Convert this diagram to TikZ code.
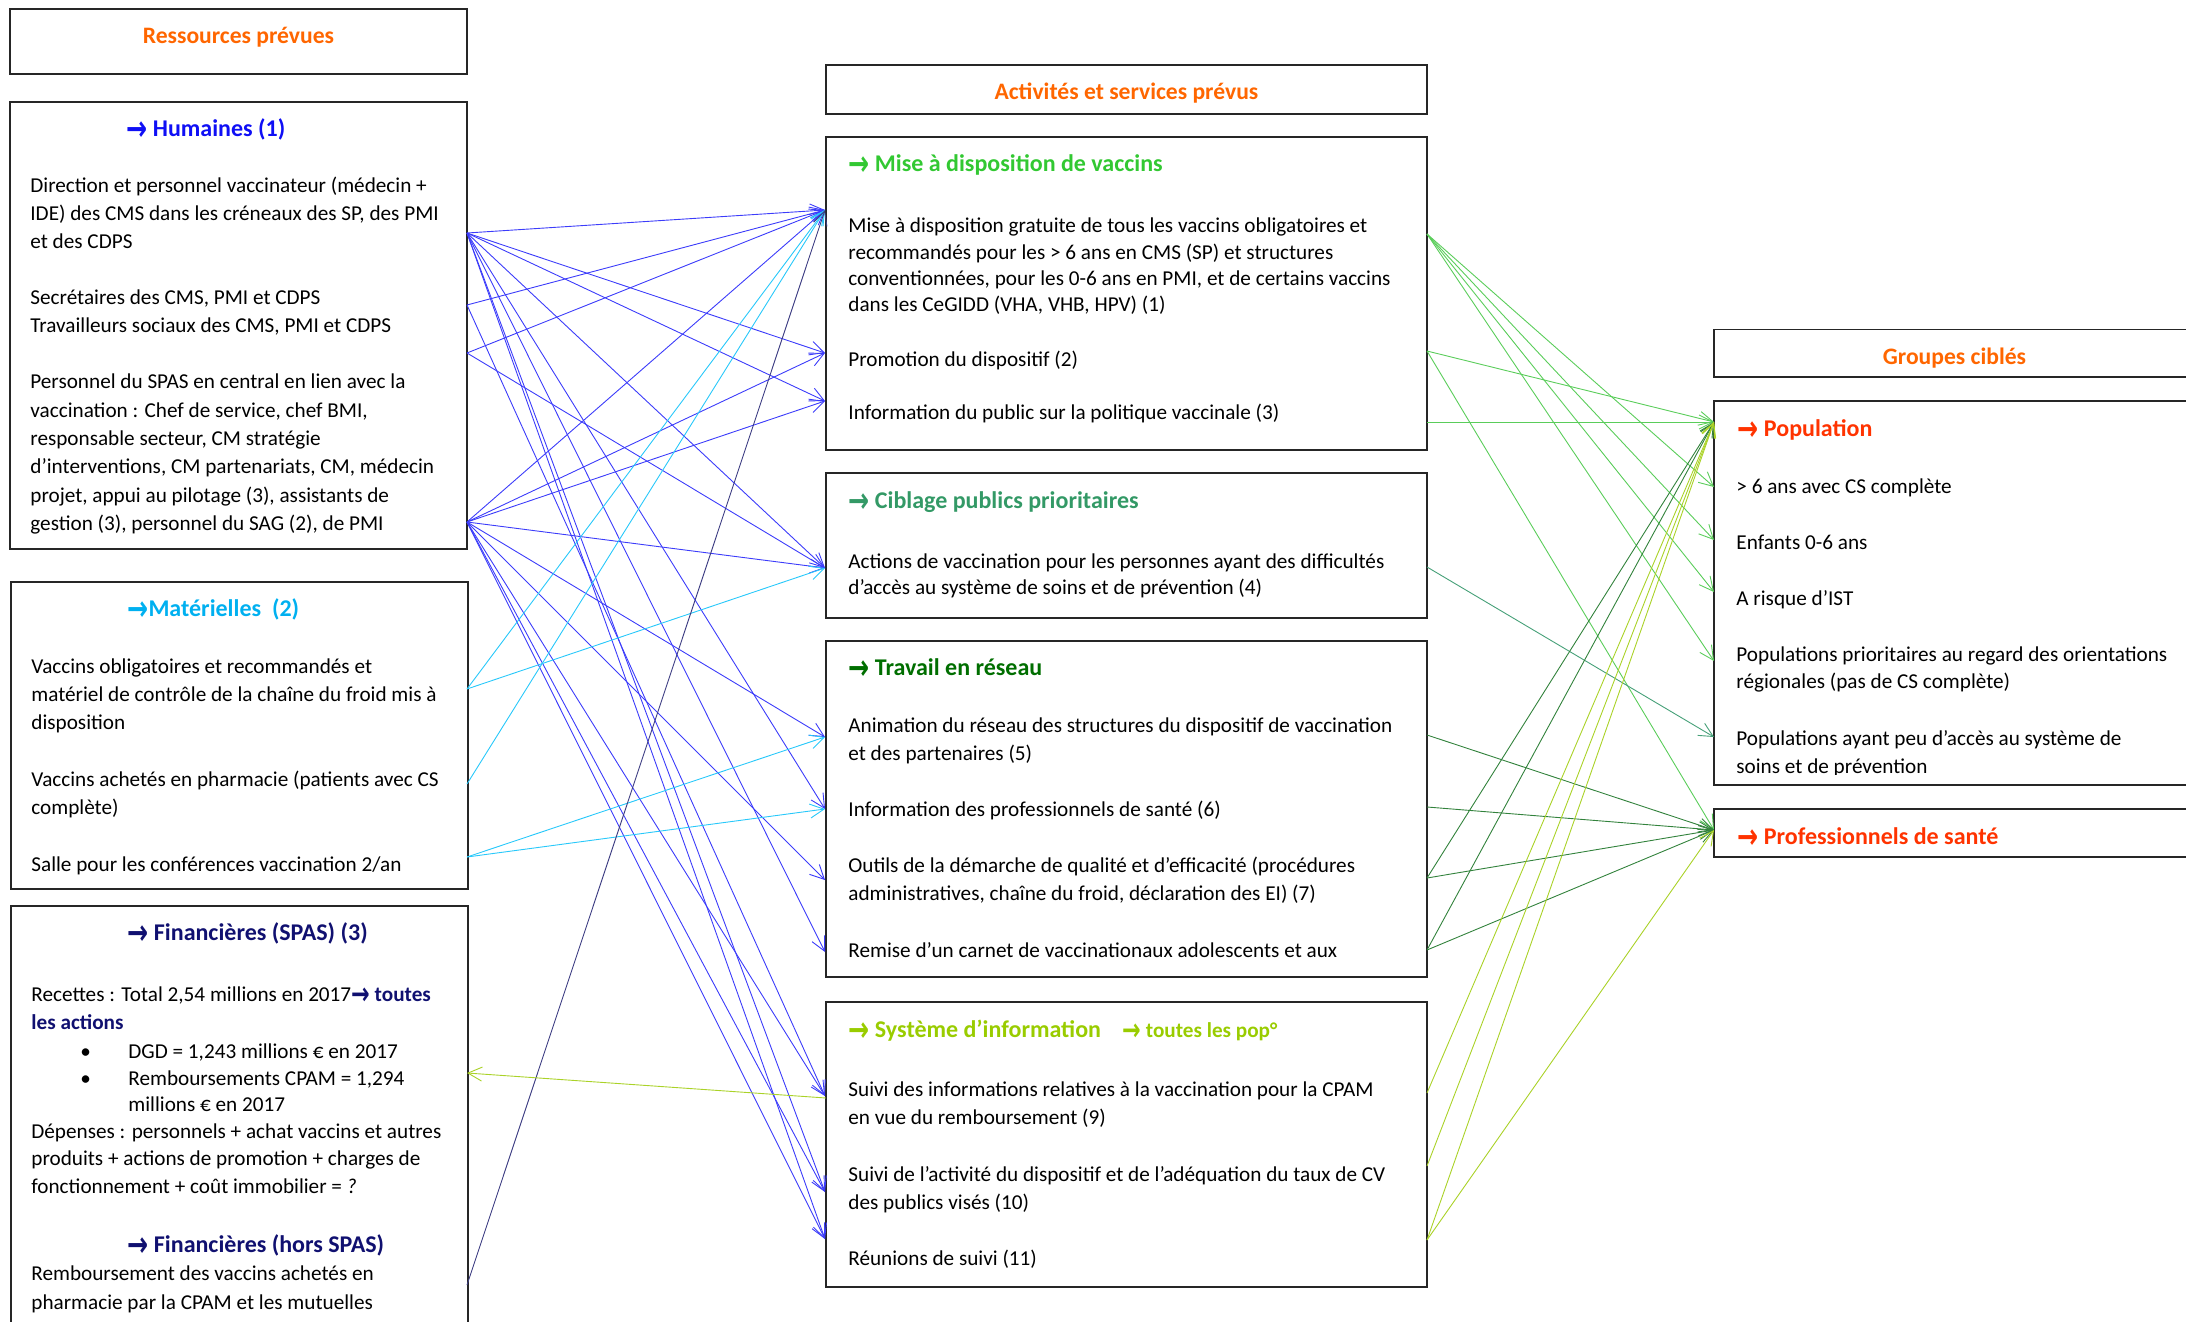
\documentclass[tikz,border=0pt]{standalone}
\usepackage{fontspec}
\setmainfont{Carlito}
\newfontfamily\arrowfont{DejaVu Sans}
\usetikzlibrary{arrows.meta}
\definecolor{orangeT}{RGB}{255,102,0}
\definecolor{humblue}{RGB}{15,15,245}
\definecolor{matcyan}{RGB}{0,176,240}
\definecolor{finnavy}{RGB}{16,16,112}
\definecolor{misegreen}{RGB}{50,200,50}
\definecolor{ciblgreen}{RGB}{51,153,102}
\definecolor{travgreen}{RGB}{0,110,0}
\definecolor{sysgreen}{RGB}{153,204,0}
\definecolor{popred}{RGB}{255,51,0}
\definecolor{lblue}{RGB}{60,60,250}
\definecolor{lcyan}{RGB}{40,200,250}
\definecolor{lnavy}{RGB}{60,60,130}
\definecolor{lsys}{RGB}{170,210,40}
\definecolor{lmise}{RGB}{90,205,90}
\definecolor{lcibl}{RGB}{70,160,120}
\definecolor{ltrav}{RGB}{50,130,60}
\newcommand\arr{{\arrowfont\bfseries\raisebox{-0.15em}{\scalebox{1.05}[1.45]{→}}}}
\tikzset{
  txt/.style={anchor=base west, inner sep=0pt, font=\fontsize{10.6}{13}\selectfont},
  hd/.style={anchor=base west, inner sep=0pt, font=\fontsize{12}{14}\selectfont\bfseries},
  ttl/.style={anchor=base, inner sep=0pt, font=\fontsize{11.8}{14}\selectfont\bfseries, text=orangeT},
  boxst/.style={draw=black!85, line width=0.9pt},
  con/.style={line width=0.45pt, -{Straight Barb[length=7pt,width=7pt]}},
}
\begin{document}
\begin{tikzpicture}[x=0.5pt,y=-0.5pt]
\useasboundingbox (0,0) rectangle (2186,1322);

% ---------- boxes ----------
\draw[boxst] (10,9) rectangle (467,74);
\draw[boxst] (10,102) rectangle (467,549);
\draw[boxst] (11,582) rectangle (468,889);
\draw[boxst] (11,906) rectangle (468,1340);
\draw[boxst] (826,65) rectangle (1427,114);
\draw[boxst] (826,137) rectangle (1427,450);
\draw[boxst] (826,473) rectangle (1427,618);
\draw[boxst] (826,641) rectangle (1427,977);
\draw[boxst] (826,1002) rectangle (1427,1287);
\draw[boxst] (1714,329.5) rectangle (2200,377);
\draw[boxst] (1714,401) rectangle (2200,785);
\draw[boxst] (1714,809) rectangle (2200,857);

% ---------- left column texts ----------
\node[ttl] (tres) at (238.5,43.5) {Ressources prévues};
\node[hd, text=humblue] (hhum) at (126,137) {\arr\ Humaines (1)};
\node[txt] (a1) at (30,192.5) {Direction et personnel vaccinateur (médecin +};
\node[txt] (a2) at (30,220.5) {IDE) des CMS dans les créneaux des SP, des PMI};
\node[txt] (a3) at (30,248.5) {et des CDPS};
\node[txt] (a4) at (30,304.5) {Secrétaires des CMS, PMI et CDPS};
\node[txt] (a5) at (30,332.5) {Travailleurs sociaux des CMS, PMI et CDPS};
\node[txt] (a6) at (30,388.5) {Personnel du SPAS en central en lien avec la};
\node[txt] (a7) at (30,417) {vaccination : Chef de service, chef BMI,};
\node[txt] (a8) at (30,445.5) {responsable secteur, CM stratégie};
\node[txt] (a9) at (30,473.5) {d’interventions, CM partenariats, CM, médecin};
\node[txt] (a10) at (30,502) {projet, appui au pilotage (3), assistants de};
\node[txt] (a11) at (30,530.5) {gestion (3), personnel du SAG (2), de PMI};

\node[hd, text=matcyan] (hmat) at (127,616.7) {\arr Matérielles\ \ (2)};
\node[txt] (b1) at (31,673.5) {Vaccins obligatoires et recommandés et};
\node[txt] (b2) at (31,701.5) {matériel de contrôle de la chaîne du froid mis à};
\node[txt] (b3) at (31,729.5) {disposition};
\node[txt] (b4) at (31,786.5) {Vaccins achetés en pharmacie (patients avec CS};
\node[txt] (b5) at (31,814.5) {complète)};
\node[txt] (b6) at (31,871.5) {Salle pour les conférences vaccination 2/an};

\node[hd, text=finnavy] (hfin) at (127,940.7) {\arr\ Financières (SPAS) (3)};
\node[txt] (c1) at (31,1001.5) {Recettes : Total 2,54 millions en 2017{\color{finnavy}\bfseries\arr\ toutes}};
\node[txt, text=finnavy, font=\fontsize{10.6}{13}\selectfont\bfseries] (c2) at (31,1029.5) {les actions};
\node[txt] (c3b) at (80,1058.5) {•};
\node[txt] (c3) at (128,1058.5) {DGD = 1,243 millions € en 2017};
\node[txt] (c4b) at (80,1085.5) {•};
\node[txt] (c4) at (128,1085.5) {Remboursements CPAM = 1,294};
\node[txt] (c5) at (128,1111.5) {millions € en 2017};
\node[txt] (c6) at (31,1138.5) {Dépenses : personnels + achat vaccins et autres};
\node[txt] (c7) at (31,1165.5) {produits + actions de promotion + charges de};
\node[txt] (c8) at (31,1193.5) {fonctionnement + coût immobilier = \textit{?}};
\node[hd, text=finnavy] (hfin2) at (127,1252.7) {\arr\ Financières (hors SPAS)};
\node[txt] (c9) at (31,1280.5) {Remboursement des vaccins achetés en};
\node[txt] (c10) at (31,1309.5) {pharmacie par la CPAM et les mutuelles};

% ---------- middle column texts ----------
\node[ttl] (tact) at (1126.5,99.7) {Activités et services prévus};
\node[hd, text=misegreen] (hmise) at (848,171.7) {\arr\ Mise à disposition de vaccins};
\node[txt] (d1) at (848,232.5) {Mise à disposition gratuite de tous les vaccins obligatoires et};
\node[txt] (d2) at (848,259.5) {recommandés pour les > 6 ans en CMS (SP) et structures};
\node[txt] (d3) at (848,285.5) {conventionnées, pour les 0-6 ans en PMI, et de certains vaccins};
\node[txt] (d4) at (848,311.5) {dans les CeGIDD (VHA, VHB, HPV) (1)};
\node[txt] (d5) at (848,366.5) {Promotion du dispositif (2)};
\node[txt] (d6) at (848,419.5) {Information du public sur la politique vaccinale (3)};

\node[hd, text=ciblgreen] (hcib) at (848,508.7) {\arr\ Ciblage publics prioritaires};
\node[txt] (e1) at (848,568.5) {Actions de vaccination pour les personnes ayant des difficultés};
\node[txt] (e2) at (848,594.5) {d’accès au système de soins et de prévention (4)};

\node[hd, text=travgreen] (htra) at (848,675.7) {\arr\ Travail en réseau};
\node[txt] (f1) at (848,732.5) {Animation du réseau des structures du dispositif de vaccination};
\node[txt] (f2) at (848,760.5) {et des partenaires (5)};
\node[txt] (f3) at (848,816.5) {Information des professionnels de santé (6)};
\node[txt] (f4) at (848,872.5) {Outils de la démarche de qualité et d’efficacité (procédures};
\node[txt] (f5) at (848,900.5) {administratives, chaîne du froid, déclaration des EI) (7)};
\node[txt] (f6) at (848,957.5) {Remise d’un carnet de vaccinationaux adolescents et aux};

\node[hd, text=sysgreen] (hsys) at (848,1037.7) {\arr\ Système d’information};
\node[txt, text=sysgreen, font=\fontsize{10.6}{13}\selectfont\bfseries] (hsys2) at (1122,1037.7) {\arr\ toutes les pop°};
\node[txt] (g1) at (848,1096.5) {Suivi des informations relatives à la vaccination pour la CPAM};
\node[txt] (g2) at (848,1124.5) {en vue du remboursement (9)};
\node[txt] (g3) at (848,1181.5) {Suivi de l’activité du dispositif et de l’adéquation du taux de CV};
\node[txt] (g4) at (848,1209.5) {des publics visés (10)};
\node[txt] (g5) at (848,1265.5) {Réunions de suivi (11)};

% ---------- right column texts ----------
\node[ttl] (tgrp) at (1954.5,364.7) {Groupes ciblés};
\node[hd, text=popred] (hpop) at (1737,436.7) {\arr\ Population};
\node[txt] (p1) at (1736,493.5) {> 6 ans avec CS complète};
\node[txt] (p2) at (1736,549.5) {Enfants 0-6 ans};
\node[txt] (p3) at (1736,605.5) {A risque d’IST};
\node[txt] (p4) at (1736,661.5) {Populations prioritaires au regard des orientations};
\node[txt] (p5) at (1736,688.5) {régionales (pas de CS complète)};
\node[txt] (p6) at (1736,745.5) {Populations ayant peu d’accès au système de};
\begin{scope}
\clip (1714,401) rectangle (2200,774);
\node[txt] (p7) at (1736,773.5) {soins et de prévention};
\end{scope}
\node[hd, text=popred] (hpro) at (1737,844.7) {\arr\ Professionnels de santé};

% ---------- anchor points ----------
\coordinate (A) at (467,233);
\coordinate (B) at (467,305);
\coordinate (C) at (467,353);
\coordinate (D) at (467,522);
\coordinate (M1) at (467,689);
\coordinate (M2) at (467,784);
\coordinate (M3) at (467,857);
\coordinate (F1) at (467,1073);
\coordinate (E) at (467,1285);
\coordinate (T1) at (825,210);
\coordinate (T2) at (825,353);
\coordinate (T3) at (825,401);
\coordinate (T4) at (825,568);
\coordinate (T5) at (825,737);
\coordinate (T6) at (825,809);
\coordinate (T7) at (825,880);
\coordinate (T8) at (825,952);
\coordinate (T9) at (825,1096);
\coordinate (T9s) at (826,1098);
\coordinate (T10) at (825,1192);
\coordinate (T11) at (825,1239);
\coordinate (R1) at (1427,234);
\coordinate (R2) at (1427,351);
\coordinate (R3) at (1427,422);
\coordinate (R4) at (1427,567);
\coordinate (R5) at (1427,735);
\coordinate (R6) at (1427,807);
\coordinate (R7) at (1427,878);
\coordinate (R8) at (1427,950);
\coordinate (R9) at (1427,1093);
\coordinate (R10) at (1427,1166);
\coordinate (R11) at (1427,1240);
\coordinate (P0) at (1714,422);
\coordinate (P1) at (1714,487);
\coordinate (P2) at (1714,540);
\coordinate (P3) at (1714,592);
\coordinate (P4) at (1714,661);
\coordinate (P5) at (1714,737);
\coordinate (PR) at (1714,830);

% ---------- left connectors ----------
\begin{scope}[con, draw=lblue]
\foreach \t in {T1,T2,T3,T4,T6,T8,T10,T11} \draw (A) -- (\t);
\foreach \t in {T1,T9} \draw (B) -- (\t);
\foreach \t in {T1,T4} \draw (C) -- (\t);
\foreach \t in {T1,T2,T3,T4,T5,T7,T9,T10,T11} \draw (D) -- (\t);
\end{scope}
\begin{scope}[con, draw=lcyan]
\draw (M1) -- (T1);
\draw (M1) -- (T4);
\draw (M2) -- (T1);
\draw (M3) -- (T5);
\draw (M3) -- (T6);
\end{scope}
\draw[con, draw=lnavy] (E) -- (T1);
\draw[con, draw=lsys] (T9s) -- (F1);

% ---------- right connectors ----------
\begin{scope}[con, draw=lmise]
\foreach \t in {P1,P2,P3,P4} \draw (R1) -- (\t);
\draw (R2) -- (P0);
\draw (R2) -- (PR);
\draw (R3) -- (P0);
\end{scope}
\draw[con, draw=lcibl] (R4) -- (P5);
\begin{scope}[con, draw=ltrav]
\foreach \s in {R5,R6,R7,R8} \draw (\s) -- (PR);
\draw (R7) -- (P0);
\draw (R8) -- (P0);
\end{scope}
\begin{scope}[con, draw=lsys]
\foreach \s in {R9,R10,R11} \draw (\s) -- (P0);
\draw (R11) -- (PR);
\end{scope}
\end{tikzpicture}
\end{document}
